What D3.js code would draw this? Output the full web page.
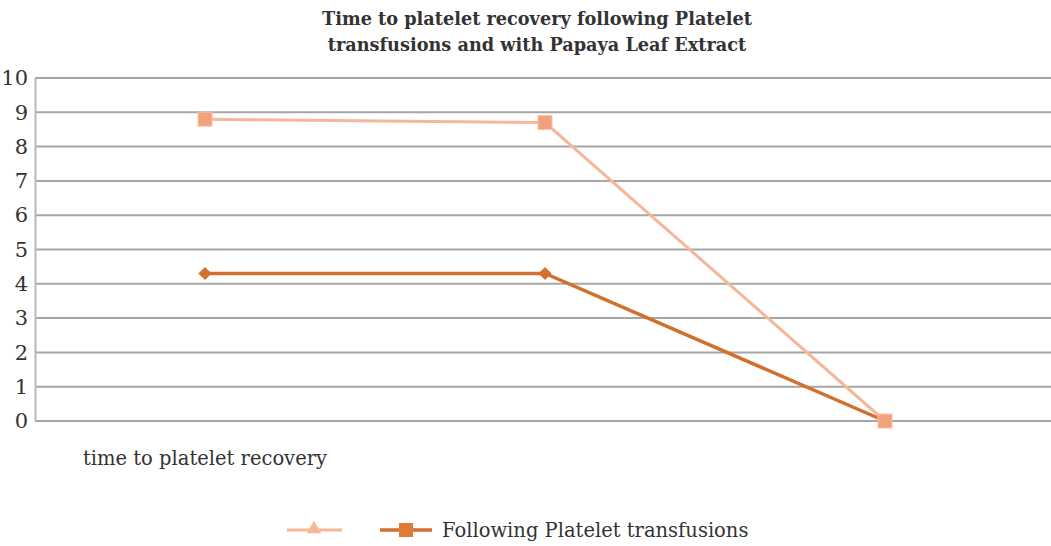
<!DOCTYPE html>
<html>
<head>
<meta charset="utf-8">
<script src="https://cdn.jsdelivr.net/npm/d3@7"></script>
<style>
  body { margin: 0; background: #fff; overflow: hidden; }
  svg text { font-family: "DejaVu Serif", "Liberation Serif", serif; fill: #333; }
</style>
</head>
<body>
<div id="chart"></div>
<script>
// Data
var categories = ["time to platelet recovery", "", " "];
var papayaValues = [8.8, 8.7, 0];
var transfusionValues = [4.3, 4.3, 0];
var yTicks = [0, 1, 2, 3, 4, 5, 6, 7, 8, 9, 10];
var titleLines = ["Time to platelet recovery following Platelet", "transfusions and with Papaya Leaf Extract"];
var legendLabel = "Following Platelet transfusions";

var svgWidth = 1051;
var svgHeight = 546;

// plot area runs a little past the right edge, as in the original
var margin = { top: 78, right: -4, bottom: 125, left: 35 };
var width = svgWidth - margin.left - margin.right;
var height = svgHeight - margin.top - margin.bottom;

var svg = d3.select("#chart")
    .append("svg")
    .attr("width", svgWidth)
    .attr("height", svgHeight);

// Title
svg.append("g")
    .selectAll("text")
    .data(titleLines)
    .enter()
    .append("text")
    .attr("x", 537)
    .attr("y", (d, i) => 25 + i * 26)
    .attr("text-anchor", "middle")
    .attr("font-size", "17.7px")
    .attr("font-weight", "bold")
    .text(d => d);

var chartGroup = svg.append("g")
    .attr("transform", `translate(${margin.left}, ${margin.top})`);

var xScale = d3.scaleBand()
    .domain(categories)
    .range([0, width]);

var yScale = d3.scaleLinear()
    .domain([0, 10])
    .range([height, 0]);

// Gridlines
chartGroup.append("g")
    .selectAll("line")
    .data(yTicks)
    .enter()
    .append("line")
    .attr("x1", 0)
    .attr("x2", width)
    .attr("y1", d => yScale(d))
    .attr("y2", d => yScale(d))
    .attr("stroke", "#a6a6a6")
    .attr("stroke-width", 2);

// Y axis
var leftAxis = d3.axisLeft(yScale).tickValues(yTicks).tickSize(0).tickPadding(7);
var yAxis = chartGroup.append("g").call(leftAxis);
yAxis.select(".domain").attr("stroke", "#b8b8b8").attr("stroke-width", 2);
yAxis.selectAll("text").attr("font-size", "21px").attr("fill", "#333")
    .attr("font-family", "'Liberation Serif', serif");

// X category labels
chartGroup.append("g")
    .selectAll("text")
    .data(categories)
    .enter()
    .append("text")
    .attr("x", d => xScale(d) + xScale.bandwidth() / 2)
    .attr("y", height + 44)
    .attr("text-anchor", "middle")
    .attr("font-size", "19.5px")
    .text(d => d.trim());

var xCenter = (d, i) => xScale(categories[i]) + xScale.bandwidth() / 2;

var line = d3.line()
    .x(xCenter)
    .y(d => yScale(d));

// Papaya series line (light)
chartGroup.append("path")
    .datum(papayaValues)
    .attr("fill", "none")
    .attr("stroke", "#f5b896")
    .attr("stroke-width", 3)
    .attr("d", line);

// Transfusion series (dark)
chartGroup.append("path")
    .datum(transfusionValues)
    .attr("fill", "none")
    .attr("stroke", "#d2702e")
    .attr("stroke-width", 3.5)
    .attr("d", line);

chartGroup.append("g")
    .selectAll("path")
    .data(transfusionValues.slice(0, 2))
    .enter()
    .append("path")
    .attr("d", d3.symbol().type(d3.symbolDiamond2).size(110))
    .attr("transform", (d, i) => `translate(${xCenter(d, i)}, ${yScale(d)})`)
    .attr("fill", "#d2702e");

// Papaya markers on top
chartGroup.append("g")
    .selectAll("rect")
    .data(papayaValues)
    .enter()
    .append("rect")
    .attr("x", (d, i) => xCenter(d, i) - 7)
    .attr("y", d => yScale(d) - 7)
    .attr("width", 14)
    .attr("height", 14)
    .attr("fill", "#f2a27a")
    .attr("stroke", "#f7c3a6")
    .attr("stroke-width", 1);

// Legend
var legend = svg.append("g").attr("transform", "translate(0, 530)");

legend.append("line")
    .attr("x1", 287).attr("x2", 342).attr("y1", 0).attr("y2", 0)
    .attr("stroke", "#f5b896").attr("stroke-width", 3);
legend.append("path")
    .attr("d", d3.symbol().type(d3.symbolTriangle).size(90))
    .attr("transform", "translate(314, -1)")
    .attr("fill", "#f5b896");

legend.append("line")
    .attr("x1", 380).attr("x2", 432).attr("y1", 0).attr("y2", 0)
    .attr("stroke", "#d2702e").attr("stroke-width", 3.5);
legend.append("rect")
    .attr("x", 399).attr("y", -7).attr("width", 14).attr("height", 14)
    .attr("fill", "#e07a35");

legend.append("text")
    .attr("x", 442)
    .attr("y", 7)
    .attr("font-size", "19.5px")
    .text(legendLabel);
</script>
</body>
</html>
